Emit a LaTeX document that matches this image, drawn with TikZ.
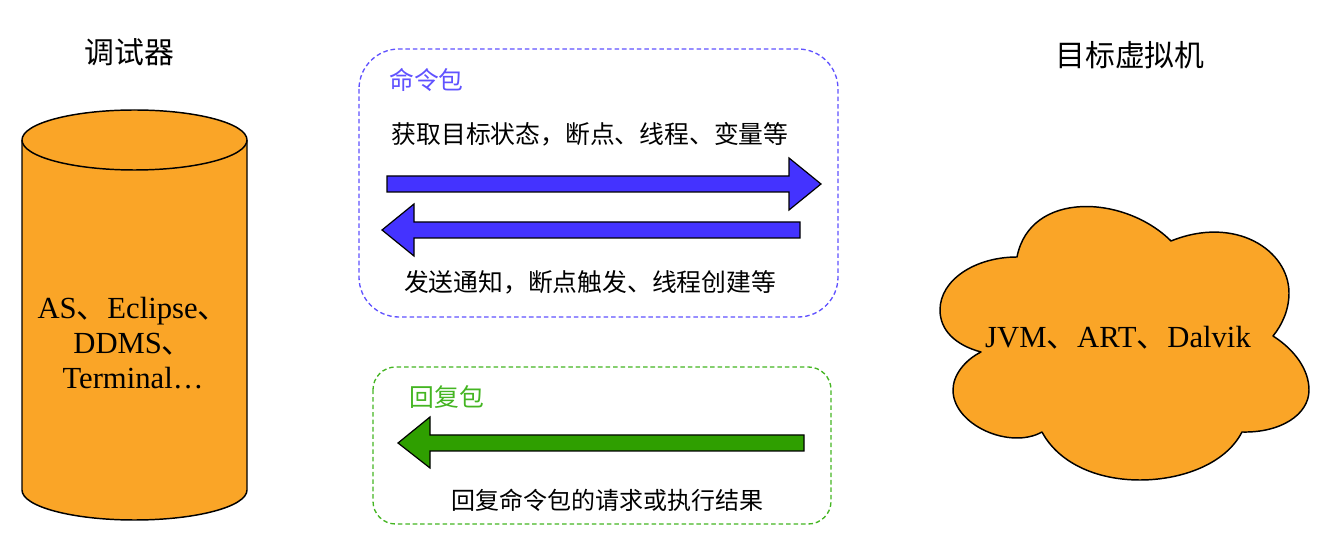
\documentclass[tikz,border=0pt]{standalone}
\usepackage{xcolor}
\usepackage{fontspec}
\setmainfont{Liberation Serif}
\newfontfamily\cjk{Noto Sans CJK SC}
\definecolor{fillorange}{HTML}{FAA527}
\definecolor{cmdblue}{HTML}{4433FF}
\definecolor{replygreen}{HTML}{2F9F00}
\definecolor{replydash}{HTML}{44B522}
\tikzset{
  cnlabel/.style={font=\cjk\fontsize{18.6}{22}\selectfont, text=black, inner sep=0pt},
  cnsmall/.style={font=\cjk\fontsize{18}{22}\selectfont, text=black, inner sep=0pt},
  cntitle/.style={font=\cjk\fontsize{22.4}{26}\selectfont, text=black, inner sep=0pt},
  latinlabel/.style={font=\fontsize{23}{26}\selectfont, align=center, text=black, inner sep=0pt},
  solidshape/.style={draw=black, fill=fillorange, line width=1.1pt, line join=round},
  blockarrow/.style={draw=black, line width=.9pt, line join=miter},
  packetbox/.style={dashed, dash pattern=on 3.4pt off 2.2pt, line width=1pt, rounded corners=#1}
}
\newcommand{\dun}{{\cjk 、}}
\begin{document}
\begin{tikzpicture}[x=.75pt,y=-.75pt]
\useasboundingbox (0,0) rectangle (1343,541);

% debugger side
\node[cntitle] (debugger) at (129.5,52) {调试器};
\draw[solidshape]
(22,140) -- (22,490) arc[start angle=180, end angle=360, x radius=112.5, y radius=-30] -- (247,140)
arc[start angle=0, end angle=180, x radius=112.5, y radius=-30] -- cycle;
\draw[solidshape]
(22,140) arc[start angle=180, end angle=360, x radius=112.5, y radius=-30];
\node[latinlabel] (tools) at (133,343) {AS\dun Eclipse\dun\\DDMS\dun\\Terminal\ldots};

% command packet
\draw[packetbox=30pt, draw=cmdblue!85!white] (359,49) rectangle (838,317);
\node[cnlabel, text=cmdblue!85!white] (cmdtitle) at (426.5,80) {命令包};
\node[cnlabel] (cmdtop) at (590,134) {获取目标状态，断点、线程、变量等};
\node[cnlabel] (cmdbottom) at (590,282) {发送通知，断点触发、线程创建等};
\draw[blockarrow, fill=cmdblue]
(387,176) -- (789,176) -- (789,158) -- (821,184) -- (789,210) -- (789,192) -- (387,192) -- cycle;
\draw[blockarrow, fill=cmdblue]
(800,222) -- (414,222) -- (414,204) -- (382,230) -- (414,256) -- (414,238) -- (800,238) -- cycle;

% reply packet
\draw[packetbox=17pt, draw=replydash] (373,367) rectangle (831,524);
\node[cnlabel, text=replydash] (replytitle) at (447,397) {回复包};
\node[cnsmall] (replytext) at (607,500) {回复命令包的请求或执行结果};
\draw[blockarrow, fill=replygreen]
(804,435) -- (430,435) -- (430,417) -- (398,443) -- (430,468) -- (430,451) -- (804,451) -- cycle;

% target vm side
\node[cntitle] (target) at (1130,55) {目标虚拟机};
\draw[solidshape]
(1017,257) .. controls (1030,190) and (1125,195) .. (1171,241)
.. controls (1235,215) and (1289,250) .. (1289,293)
.. controls (1289,310) and (1282,325) .. (1273,336)
.. controls (1295,350) and (1309,370) .. (1309,390)
.. controls (1309,415) and (1280,433) .. (1242,432)
.. controls (1225,465) and (1180,480) .. (1140,480)
.. controls (1095,480) and (1058,462) .. (1042,432)
.. controls (1010,450) and (953,425) .. (953,390)
.. controls (953,375) and (965,360) .. (981,352)
.. controls (955,345) and (940,330) .. (940,310)
.. controls (940,280) and (975,257) .. (1017,257) -- cycle;
\node[latinlabel] (vms) at (1118,338) {JVM\dun ART\dun Dalvik};
\end{tikzpicture}
\end{document}
